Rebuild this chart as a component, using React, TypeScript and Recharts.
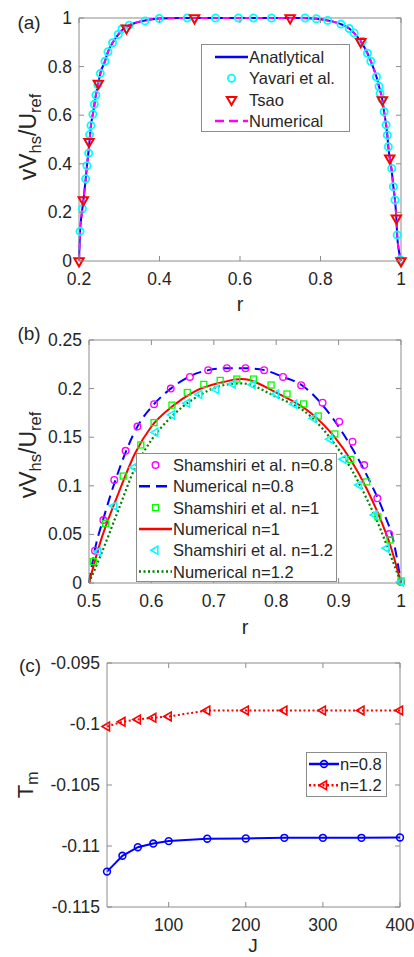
import React from 'react';
import { ComposedChart, Line, Scatter, XAxis, YAxis, ReferenceLine } from 'recharts';

const FONT = '"Liberation Sans", Arial, Helvetica, sans-serif';
const TXT = '#262626';
const AXC = '#8c8c8c';
const TICK_FS = 17.5;
const LEG_FS = 16.5;

// ---------------- Panel (a) ----------------
const aXTicks = [0.2, 0.4, 0.6, 0.8, 1];
const aYTicks = [0, 0.2, 0.4, 0.6, 0.8, 1];
const aCurveR = [0.2, 0.2025, 0.2065, 0.2105, 0.2165, 0.2198, 0.2248, 0.2297, 0.2355, 0.242, 0.2479, 0.253, 0.2645, 0.272, 0.2834, 0.2974, 0.31, 0.3246, 0.344, 0.364, 0.3994, 0.45, 0.55, 0.65, 0.75, 0.79, 0.818, 0.8506, 0.8712, 0.8836, 0.9, 0.9166, 0.925, 0.939, 0.9455, 0.9537, 0.958, 0.966, 0.9685, 0.972, 0.977, 0.981, 0.985, 0.9885, 0.9905, 0.995, 1.0];
const aAnalyticalV = [0, 0.12, 0.19, 0.245, 0.335, 0.392, 0.47, 0.558, 0.615, 0.683, 0.731, 0.772, 0.822, 0.861, 0.898, 0.932, 0.955, 0.97, 0.982, 0.99, 0.998, 1, 1, 1, 1, 0.997, 0.99, 0.975, 0.957, 0.938, 0.904, 0.855, 0.822, 0.758, 0.718, 0.663, 0.614, 0.518, 0.47, 0.423, 0.37, 0.306, 0.251, 0.176, 0.107, 0.04, 0];
const aNumericalV = [0, 0.12, 0.19, 0.245, 0.335, 0.392, 0.47, 0.558, 0.615, 0.683, 0.731, 0.772, 0.822, 0.861, 0.898, 0.932, 0.955, 0.97, 0.982, 0.99, 0.998, 1, 1, 1, 1, 0.997, 0.99, 0.975, 0.957, 0.938, 0.904, 0.855, 0.822, 0.758, 0.718, 0.663, 0.614, 0.518, 0.47, 0.423, 0.37, 0.306, 0.251, 0.176, 0.107, 0.04, 0];
const aYavariR = [0.2025, 0.2085, 0.2165, 0.2198, 0.224, 0.2262, 0.2297, 0.2345, 0.238, 0.242, 0.247, 0.253, 0.2645, 0.272, 0.2834, 0.2974, 0.3067, 0.3246, 0.364, 0.3994, 0.4689, 0.5392, 0.5963, 0.6335, 0.6782, 0.7617, 0.7899, 0.818, 0.8506, 0.8712, 0.8836, 0.904, 0.9166, 0.925, 0.939, 0.9455, 0.948, 0.953, 0.958, 0.963, 0.966, 0.9685, 0.977, 0.981, 0.985, 0.9905, 0.998];
const aYavariV = [0.122, 0.215, 0.338, 0.392, 0.444, 0.52, 0.558, 0.604, 0.645, 0.683, 0.725, 0.772, 0.822, 0.861, 0.898, 0.932, 0.955, 0.97, 0.988, 0.998, 1, 1, 1, 1, 1, 1, 0.997, 0.99, 0.975, 0.957, 0.938, 0.904, 0.855, 0.822, 0.758, 0.718, 0.69, 0.665, 0.614, 0.56, 0.518, 0.47, 0.381, 0.306, 0.251, 0.107, 0.005];
const aTsaoR = [0.2, 0.2107, 0.2248, 0.2479, 0.318, 0.487, 0.7245, 0.9, 0.9537, 0.972, 0.9885, 1.0];
const aTsaoV = [0, 0.251, 0.491, 0.731, 0.958, 1, 1, 0.902, 0.663, 0.423, 0.176, 0];

// ---------------- Panel (b) ----------------
const bXTicks = [0.5, 0.6, 0.7, 0.8, 0.9, 1];
const bYTicks = [0, 0.05, 0.1, 0.15, 0.2, 0.25];
const bSham08R = [0.5096, 0.523, 0.5405, 0.5586, 0.5776, 0.6043, 0.631, 0.6617, 0.691, 0.721, 0.7508, 0.7807, 0.811, 0.84, 0.8743, 0.901, 0.9223, 0.941, 0.962, 0.981, 1.0];
const bSham08V = [0.0333, 0.0648, 0.106, 0.136, 0.161, 0.184, 0.2, 0.212, 0.219, 0.221, 0.221, 0.219, 0.212, 0.2035, 0.1855, 0.166, 0.1454, 0.1214, 0.0871, 0.0504, 0.001];
const bNum08R = [0.5, 0.51, 0.523, 0.544, 0.579, 0.6043, 0.631, 0.661, 0.691, 0.721, 0.751, 0.781, 0.811, 0.84, 0.877, 0.904, 0.925, 0.9515, 0.9728, 0.9888, 1.0];
const bNum08V = [0, 0.036, 0.066, 0.109, 0.1625, 0.184, 0.2, 0.2125, 0.219, 0.221, 0.221, 0.219, 0.212, 0.204, 0.181, 0.157, 0.135, 0.1026, 0.0717, 0.0408, 0];
const bSham1R = [0.5069, 0.5266, 0.5548, 0.583, 0.6043, 0.633, 0.6575, 0.684, 0.7102, 0.7369, 0.7636, 0.7918, 0.8173, 0.844, 0.8674, 0.894, 0.9196, 0.945, 0.963, 0.9824, 1.0];
const bSham1V = [0.0219, 0.0614, 0.11, 0.142, 0.165, 0.183, 0.196, 0.2043, 0.2084, 0.2098, 0.2098, 0.2037, 0.1944, 0.1842, 0.1718, 0.1533, 0.127, 0.104, 0.068, 0.0442, 0.002];
const bNum1R = [0.5, 0.5176, 0.547, 0.5735, 0.6, 0.632, 0.669, 0.717, 0.745, 0.8025, 0.856, 0.893, 0.9196, 0.946, 0.9676, 0.9835, 1.0];
const bNum1V = [0, 0.0408, 0.092, 0.133, 0.161, 0.181, 0.197, 0.207, 0.2098, 0.195, 0.1746, 0.1505, 0.1265, 0.0957, 0.0648, 0.0373, 0];
const bSham12R = [0.5149, 0.5405, 0.5724, 0.6065, 0.633, 0.6575, 0.677, 0.704, 0.7305, 0.7625, 0.8, 0.829, 0.86, 0.8866, 0.9078, 0.933, 0.958, 0.977, 1.0];
const bSham12V = [0.0322, 0.0792, 0.119, 0.155, 0.173, 0.185, 0.194, 0.199, 0.2047, 0.204, 0.1944, 0.184, 0.1694, 0.148, 0.1273, 0.1008, 0.07, 0.0357, 0.001];
const bNum12R = [0.5, 0.52, 0.547, 0.5735, 0.6, 0.632, 0.669, 0.717, 0.745, 0.797, 0.856, 0.893, 0.9196, 0.946, 0.9676, 0.986, 1.0];
const bNum12V = [0, 0.0305, 0.075, 0.118, 0.147, 0.171, 0.19, 0.2037, 0.2054, 0.1925, 0.171, 0.1437, 0.118, 0.0854, 0.0545, 0.0237, 0];

// ---------------- Panel (c) ----------------
const cXTicks = [100, 200, 300, 400];
const cYTicks = [-0.115, -0.11, -0.105, -0.1, -0.095];
const cJ = [20, 40, 60, 80, 100, 150, 200, 250, 300, 350, 400];
const cN08 = [-0.1121, -0.1108, -0.1101, -0.1098, -0.1096, -0.1094, -0.10938, -0.10933, -0.10933, -0.10933, -0.1093];
const cN12 = [-0.10021, -0.09982, -0.09963, -0.09949, -0.09938, -0.09889, -0.09889, -0.09889, -0.09889, -0.09889, -0.09889];

const zip = (xs: number[], ys: number[]) => xs.map((x, i) => ({ x, y: ys[i] }));
const fmt = (v: number) => String(Number(v.toFixed(4)));

// ---------- markers ----------
const Circ = ({ cx, cy, r, color, sw }: any) => (
  <circle cx={cx} cy={cy} r={r} fill="none" stroke={color} strokeWidth={sw} />
);
const TriDown = ({ cx, cy, R, color, sw }: any) => (
  <polygon
    points={`${cx - R * 0.866},${cy - R * 0.5} ${cx + R * 0.866},${cy - R * 0.5} ${cx},${cy + R}`}
    fill="none" stroke={color} strokeWidth={sw} strokeLinejoin="miter" />
);
const TriLeft = ({ cx, cy, R, color, sw }: any) => (
  <polygon
    points={`${cx - R},${cy} ${cx + R * 0.5},${cy - R * 0.866} ${cx + R * 0.5},${cy + R * 0.866}`}
    fill="none" stroke={color} strokeWidth={sw} />
);
const Sq = ({ cx, cy, s, color, sw }: any) => (
  <rect x={cx - s / 2} y={cy - s / 2} width={s} height={s} fill="none" stroke={color} strokeWidth={sw} />
);

const mYavari = (cx: number, cy: number) => <Circ cx={cx} cy={cy} r={3.6} color="#00FFFF" sw={1.8} />;
const mTsao = (cx: number, cy: number) => <TriDown cx={cx} cy={cy} R={5.4} color="#FF0000" sw={2} />;
const mSham08 = (cx: number, cy: number) => <Circ cx={cx} cy={cy} r={3.3} color="#FF00FF" sw={1.4} />;
const mSham1 = (cx: number, cy: number) => <Sq cx={cx} cy={cy} s={6} color="#00FF00" sw={1.3} />;
const mSham12 = (cx: number, cy: number) => <TriLeft cx={cx} cy={cy} R={4.6} color="#00FFFF" sw={1.6} />;
const mC08 = (cx: number, cy: number) => <Circ cx={cx} cy={cy} r={3.4} color="#0000FF" sw={1.6} />;
const mC12 = (cx: number, cy: number) => <TriLeft cx={cx} cy={cy} R={5} color="#FF0000" sw={1.6} />;

const shapeOf = (m: (cx: number, cy: number) => any) => (p: any) => m(p.cx, p.cy);
const dotOf = (m: (cx: number, cy: number) => any) => (p: any) => <g key={`d${p.index}`}>{m(p.cx, p.cy)}</g>;

// ---------- ticks ----------
const XTick = (props: any) => {
  const { x, y, payload, plotH } = props;
  return (
    <g>
      <line x1={x} y1={y} x2={x} y2={y - 5} stroke={AXC} />
      <line x1={x} y1={y - plotH} x2={x} y2={y - plotH + 5} stroke={AXC} />
      <text x={x} y={y + 18} textAnchor="middle" dominantBaseline="central" fontSize={TICK_FS} fontFamily={FONT} fill={TXT}>
        {fmt(payload.value)}
      </text>
    </g>
  );
};
const YTick = (props: any) => {
  const { x, y, payload, plotW } = props;
  return (
    <g>
      <line x1={x} y1={y} x2={x + 5} y2={y} stroke={AXC} />
      <line x1={x + plotW} y1={y} x2={x + plotW - 5} y2={y} stroke={AXC} />
      <text x={x - 7} y={y} textAnchor="end" dominantBaseline="central" fontSize={TICK_FS} fontFamily={FONT} fill={TXT}>
        {fmt(payload.value)}
      </text>
    </g>
  );
};

// ---------- legend ----------
type Row = { label: string; line?: { color: string; width: number; dash?: string }; marker?: (cx: number, cy: number) => any };
const LegendBox = ({ left, top, width, height, rows, firstY, rowH, x0, x1, textX }: any) => (
  <div style={{ position: 'absolute', left, top, width, height }}>
    <svg width={width} height={height} style={{ position: 'absolute', left: 0, top: 0 }}>
      <rect x={0.5} y={0.5} width={width - 1} height={height - 1} fill="#fff" stroke="#8c8c8c" />
      {rows.map((r: Row, i: number) => {
        const cy = firstY + i * rowH;
        const cx = (x0 + x1) / 2;
        return (
          <g key={i}>
            {r.line && <line x1={x0} x2={x1} y1={cy} y2={cy} stroke={r.line.color} strokeWidth={r.line.width} strokeDasharray={r.line.dash} />}
            {r.marker && r.marker(cx, cy)}
          </g>
        );
      })}
    </svg>
    {rows.map((r: Row, i: number) => (
      <div key={i} style={{ position: 'absolute', left: textX, top: firstY + i * rowH, transform: 'translateY(-50%)', fontSize: LEG_FS, lineHeight: 1, whiteSpace: 'nowrap', color: TXT, fontFamily: FONT }}>
        {r.label}
      </div>
    ))}
  </div>
);

const Txt = ({ x, y, children, size = 19, rotate = false }: any) => (
  <div style={{ position: 'absolute', left: x, top: y, transform: `translate(-50%,-50%)${rotate ? ' rotate(-90deg)' : ''}`, fontSize: size, lineHeight: 1, whiteSpace: 'nowrap', color: TXT, fontFamily: FONT }}>
    {children}
  </div>
);

const subStyle: React.CSSProperties = { fontSize: '0.72em', verticalAlign: '-0.3em' };

export default function App() {
  return (
    <div style={{ position: 'absolute', left: 0, top: 0, width: 414, height: 957, background: '#fff', fontFamily: FONT, overflow: 'hidden' }}>
      {/* Panel (a) */}
      <div style={{ position: 'absolute', left: 0, top: 0 }}>
        <ComposedChart width={414} height={320} margin={{ top: 18, right: 13, bottom: 29, left: 39 }}>
          <XAxis dataKey="x" type="number" domain={[0.2, 1]} ticks={aXTicks} interval={0} tickSize={0} tickMargin={0} height={30} axisLine={{ stroke: AXC }} tickLine={false} tick={<XTick plotH={243} />} />
          <YAxis dataKey="y" type="number" domain={[0, 1]} ticks={aYTicks} interval={0} tickSize={0} tickMargin={0} width={40} axisLine={{ stroke: AXC }} tickLine={false} tick={<YTick plotW={322} />} />
          <ReferenceLine y={1} stroke={AXC} />
          <ReferenceLine x={1} stroke={AXC} />
          <Line data={zip(aCurveR, aAnalyticalV)} dataKey="y" type="monotone" stroke="#0000FF" strokeWidth={2} dot={false} isAnimationActive={false} />
          <Scatter data={zip(aYavariR, aYavariV)} shape={shapeOf(mYavari)} isAnimationActive={false} />
          <Scatter data={zip(aTsaoR, aTsaoV)} shape={shapeOf(mTsao)} isAnimationActive={false} />
          <Line data={zip(aCurveR, aNumericalV)} dataKey="y" type="monotone" stroke="#FF00FF" strokeWidth={2} strokeDasharray="7 4" dot={false} isAnimationActive={false} />
        </ComposedChart>
      </div>
      <LegendBox left={201} top={44} width={149} height={88} firstY={13} rowH={21.3} x0={14} x1={47} textX={48}
        rows={[
          { label: 'Anatlytical', line: { color: '#0000FF', width: 2.5 } },
          { label: 'Yavari et al.', marker: mYavari },
          { label: 'Tsao', marker: mTsao },
          { label: 'Numerical', line: { color: '#FF00FF', width: 2.5, dash: '9 5' } },
        ]} />
      <Txt x={29} y={22} size={19}>(a)</Txt>
      <Txt x={31} y={137} size={23} rotate>vV<span style={subStyle}>hs</span>/U<span style={subStyle}>ref</span></Txt>
      <Txt x={240} y={304} size={20}>r</Txt>

      {/* Panel (b) */}
      <div style={{ position: 'absolute', left: 0, top: 320 }}>
        <ComposedChart width={414} height={310} margin={{ top: 20, right: 13, bottom: 17, left: 49 }}>
          <XAxis dataKey="x" type="number" domain={[0.5, 1]} ticks={bXTicks} interval={0} tickSize={0} tickMargin={0} height={30} axisLine={{ stroke: AXC }} tickLine={false} tick={<XTick plotH={243} />} />
          <YAxis dataKey="y" type="number" domain={[0, 0.25]} ticks={bYTicks} interval={0} tickSize={0} tickMargin={0} width={40} axisLine={{ stroke: AXC }} tickLine={false} tick={<YTick plotW={312} />} />
          <ReferenceLine y={0.25} stroke={AXC} />
          <ReferenceLine x={1} stroke={AXC} />
          <Scatter data={zip(bSham08R, bSham08V)} shape={shapeOf(mSham08)} isAnimationActive={false} />
          <Line data={zip(bNum08R, bNum08V)} dataKey="y" type="monotone" stroke="#0000FF" strokeWidth={2} strokeDasharray="10 6" dot={false} isAnimationActive={false} />
          <Scatter data={zip(bSham1R, bSham1V)} shape={shapeOf(mSham1)} isAnimationActive={false} />
          <Line data={zip(bNum1R, bNum1V)} dataKey="y" type="monotone" stroke="#FF0000" strokeWidth={2} dot={false} isAnimationActive={false} />
          <Scatter data={zip(bSham12R, bSham12V)} shape={shapeOf(mSham12)} isAnimationActive={false} />
          <Line data={zip(bNum12R, bNum12V)} dataKey="y" type="monotone" stroke="#008000" strokeWidth={2.2} strokeDasharray="2 2.5" dot={false} isAnimationActive={false} />
        </ComposedChart>
      </div>
      <LegendBox left={136} top={453} width={201} height={129} firstY={12} rowH={21.3} x0={3} x1={36} textX={37}
        rows={[
          { label: 'Shamshiri et al. n=0.8', marker: mSham08 },
          { label: 'Numerical n=0.8', line: { color: '#0000FF', width: 2.5, dash: '11 6' } },
          { label: 'Shamshiri et al. n=1', marker: mSham1 },
          { label: 'Numerical n=1', line: { color: '#FF0000', width: 2.5 } },
          { label: 'Shamshiri et al. n=1.2', marker: mSham12 },
          { label: 'Numerical n=1.2', line: { color: '#008000', width: 2.5, dash: '2 2.5' } },
        ]} />
      <Txt x={29} y={333} size={19}>(b)</Txt>
      <Txt x={31} y={455} size={23} rotate>vV<span style={subStyle}>hs</span>/U<span style={subStyle}>ref</span></Txt>
      <Txt x={245} y={627} size={20}>r</Txt>

      {/* Panel (c) */}
      <div style={{ position: 'absolute', left: 0, top: 630 }}>
        <ComposedChart width={414} height={327} margin={{ top: 33, right: 14, bottom: 20, left: 57 }}>
          <XAxis dataKey="x" type="number" domain={[20, 400]} ticks={cXTicks} interval={0} tickSize={0} tickMargin={0} height={30} axisLine={{ stroke: AXC }} tickLine={false} tick={<XTick plotH={244} />} />
          <YAxis dataKey="y" type="number" domain={[-0.115, -0.095]} ticks={cYTicks} interval={0} tickSize={0} tickMargin={0} width={50} axisLine={{ stroke: AXC }} tickLine={false} tick={<YTick plotW={293} />} />
          <ReferenceLine y={-0.095} stroke={AXC} />
          <ReferenceLine x={400} stroke={AXC} />
          <Line data={zip(cJ, cN08)} dataKey="y" type="linear" stroke="#0000FF" strokeWidth={2} dot={dotOf(mC08)} isAnimationActive={false} />
          <Line data={zip(cJ, cN12)} dataKey="y" type="linear" stroke="#FF0000" strokeWidth={2} strokeDasharray="2 2.5" dot={dotOf(mC12)} isAnimationActive={false} />
        </ComposedChart>
      </div>
      <LegendBox left={306} top={752} width={81} height={45} firstY={12} rowH={21.3} x0={3} x1={33} textX={34}
        rows={[
          { label: 'n=0.8', line: { color: '#0000FF', width: 2.5 }, marker: mC08 },
          { label: 'n=1.2', line: { color: '#FF0000', width: 2.5, dash: '2 2.5' }, marker: mC12 },
        ]} />
      <Txt x={30} y={665} size={19}>(c)</Txt>
      <Txt x={28} y={785} size={22} rotate>T<span style={subStyle}>m</span></Txt>
      <Txt x={253} y={945} size={19}>J</Txt>
    </div>
  );
}
